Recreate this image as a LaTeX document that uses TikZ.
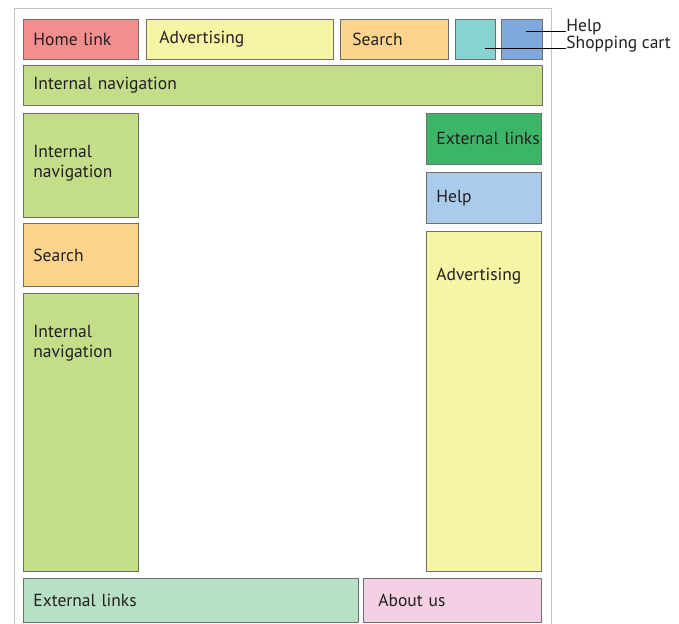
\documentclass[tikz,border=0pt]{standalone}
\usepackage{fontspec}
\setmainfont{PT Sans}
\definecolor{homered}{HTML}{F28E8E}
\definecolor{adyel}{HTML}{F8F4A6}
\definecolor{srchor}{HTML}{FDD48C}
\definecolor{cartcy}{HTML}{88D2D2}
\definecolor{helpbl}{HTML}{7FA9DD}
\definecolor{navgr}{HTML}{C3DD89}
\definecolor{extgr}{HTML}{3DB568}
\definecolor{helplt}{HTML}{AACBEC}
\definecolor{extlt}{HTML}{B8E0C4}
\definecolor{aboutpk}{HTML}{F3D0E4}
\definecolor{boxline}{HTML}{6E6E6E}
\definecolor{frameline}{HTML}{C4C4C4}
\definecolor{txt}{HTML}{231F20}
\begin{document}
\begin{tikzpicture}[x=1pt, y=-1pt]
\tikzstyle{every node}=[draw=boxline,line width=0.8pt,anchor=north west,align=left,inner xsep=10pt,inner ysep=0pt,text=txt,font=\fontsize{17.5}{20.5}\selectfont]
\tikzstyle{tag}=[draw=none,inner xsep=0pt,anchor=base west]
\useasboundingbox (0,0) rectangle (679,623);
\draw[frameline,line width=1pt] (14,640) |- (551,9) -- (551,640);
% top row
\node[fill=homered,minimum width=115pt,text width=95pt,minimum height=40pt](t00) at (23,19) {Home link};
\node[fill=adyel,minimum width=187pt,text width=161pt,minimum height=40pt,inner xsep=13pt](t01) at (146,19) {Advertising};
\node[fill=srchor,minimum width=108pt,text width=84pt,minimum height=40pt,inner xsep=12pt](t02) at (340,19) {Search};
\node[fill=cartcy,minimum width=40pt,minimum height=40pt](t03) at (455,19) {};
\node[fill=helpbl,minimum width=41pt,minimum height=40pt](t04) at (501,19) {};
\node[fill=navgr,minimum width=519pt,text width=499pt,minimum height=40pt](n00) at (23,65) {Internal navigation};
% left column
\node[fill=navgr,minimum width=115pt,text width=95pt,text height=44pt,text depth=60pt](l00) at (23,113) {Internal\\navigation};
\node[fill=srchor,minimum width=115pt,text width=95pt,minimum height=63pt](l01) at (23,223) {Search};
\node[fill=navgr,minimum width=115pt,text width=95pt,text height=44pt,text depth=234pt](l02) at (23,293) {Internal\\navigation};
% right column
\node[fill=extgr,minimum width=115pt,text width=95pt,minimum height=51pt](r00) at (426,113) {\mbox{External links}};
\node[fill=helplt,minimum width=115pt,text width=95pt,minimum height=51pt](r01) at (426,172) {Help};
\node[fill=adyel,minimum width=115pt,text width=95pt,text height=49pt,text depth=291pt](r02) at (426,231) {Advertising};
% bottom row
\node[fill=extlt,minimum width=335pt,text width=315pt,minimum height=44pt](b00) at (23,578) {External links};
\node[fill=aboutpk,minimum width=178pt,text width=148pt,minimum height=44pt,inner xsep=15pt](b01) at (363,578) {About us};
% callouts
\node[tag](hl) at (566,32) {Help};
\node[tag](sc) at (566,48.5) {Shopping cart};
\coordinate (hd) at (526,31.5);
\coordinate (cd) at (485,48.5);
\draw[line width=0.8pt] (hd) -- (hd -| hl.west);
\draw[line width=0.8pt] (cd) -- (cd -| sc.west);
\end{tikzpicture}
\end{document}
